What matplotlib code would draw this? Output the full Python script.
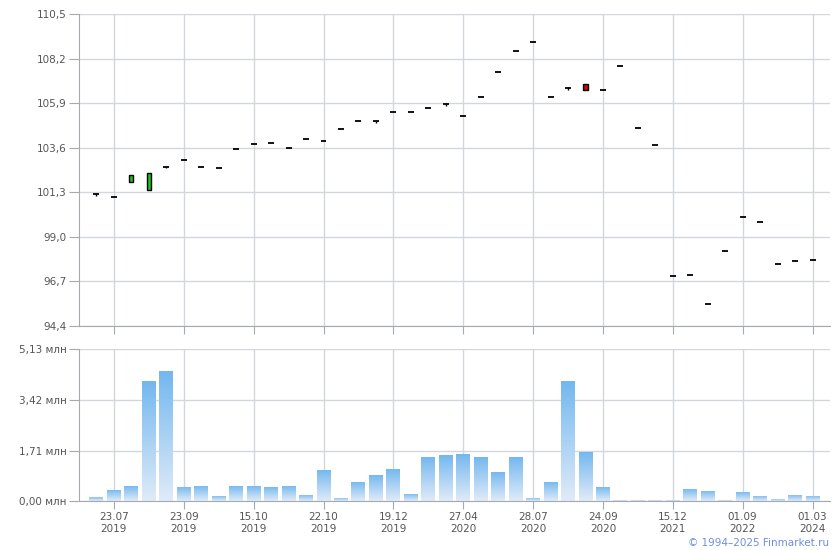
import numpy as np
import matplotlib
matplotlib.use("Agg")
import matplotlib.pyplot as plt
from matplotlib.colors import LinearSegmentedColormap

# данные: свечи (цена) и объём, млн
opens = [101.21, 101.06, 101.81, 101.40, 102.62, 102.97, 102.60, 102.55, 103.53, 103.79,
         103.84, 103.59, 104.05, 103.95, 104.57, 104.98, 104.96, 105.42, 105.44, 105.65,
         105.84, 105.24, 106.22, 107.51, 108.59, 109.06, 106.22, 106.66, 106.89, 106.58,
         107.82, 104.62, 103.74, 96.98, 97.03, 95.54, 98.27, 100.03, 99.77, 97.60,
         97.75, 97.81]
closes = [101.21, 101.06, 102.19, 102.30, 102.62, 102.97, 102.60, 102.55, 103.53, 103.79,
          103.84, 103.59, 104.05, 103.95, 104.57, 104.98, 104.96, 105.42, 105.44, 105.65,
          105.84, 105.24, 106.22, 107.51, 108.59, 109.06, 106.22, 106.66, 106.58, 106.58,
          107.82, 104.62, 103.74, 96.98, 97.03, 95.54, 98.27, 100.03, 99.77, 97.60,
          97.75, 97.81]
highs = list(closes)
lows = list(opens)
highs[0], lows[0] = 101.21, 101.12
highs[4], lows[4] = 102.62, 102.56
highs[16], lows[16] = 104.96, 104.89
highs[20], lows[20] = 105.84, 105.77
highs[27], lows[27] = 106.72, 106.60

volumes = [0.15, 0.38, 0.52, 4.05, 4.39, 0.48, 0.52, 0.18, 0.52, 0.52,
           0.48, 0.52, 0.21, 1.06, 0.11, 0.65, 0.89, 1.09, 0.25, 1.49,
           1.56, 1.59, 1.49, 0.99, 1.49, 0.11, 0.65, 4.05, 1.66, 0.48,
           0.045, 0.045, 0.045, 0.045, 0.42, 0.35, 0.04, 0.31, 0.18, 0.08,
           0.21, 0.18]

tick_idx = [1, 5, 9, 13, 17, 21, 25, 29, 33, 37, 41]
tick_labels = ["23.07\n2019", "23.09\n2019", "15.10\n2019", "22.10\n2019", "19.12\n2019",
               "27.04\n2020", "28.07\n2020", "24.09\n2020", "15.12\n2021", "01.09\n2022",
               "01.03\n2024"]
price_ticks = [94.4, 96.7, 99.0, 101.3, 103.6, 105.9, 108.2, 110.5]
vol_ticks = [0.0, 1.71, 3.42, 5.13]

grid_c = "#d3d7dc"
spine_c = "#a5a9b0"
text_c = "#555555"

fig = plt.figure(figsize=(8.4, 5.5), dpi=100)
ax1 = fig.add_axes([79/840, 1-326/550, 751/840, 312/550])
ax2 = fig.add_axes([79/840, 1-501.3/550, 751/840, 152.3/550])

x = np.arange(len(opens))

def style(ax):
    for s in ["top", "right"]:
        ax.spines[s].set_visible(False)
    for s in ["left", "bottom"]:
        ax.spines[s].set_color(spine_c)
    ax.grid(True, color=grid_c, linewidth=1)
    ax.set_axisbelow(True)
    ax.tick_params(colors=spine_c, labelcolor=text_c, labelsize=7.5, length=7, pad=2)
    ax.tick_params(axis="x", length=6, labelsize=7.5, pad=1.5)
    ax.set_xlim(-1, 42)
    ax.set_xticks(tick_idx)

# свечи
style(ax1)
ax1.set_ylim(94.4, 110.5)
ax1.set_yticks(price_ticks)
ax1.set_yticklabels([f"{v:.1f}".replace(".", ",") for v in price_ticks])
ax1.set_xticklabels([])
for i in x:
    o, c = opens[i], closes[i]
    ax1.vlines(i, lows[i], highs[i], color="black", linewidth=1, zorder=3)
    if abs(c - o) < 0.05:
        ax1.hlines(o, i - 0.17, i + 0.17, color="black", linewidth=1.3, zorder=3)
    else:
        col = "#1fbf1f" if c > o else "#d40000"
        ax1.bar(i, abs(c - o), bottom=min(o, c), width=0.24, color=col,
                edgecolor="black", linewidth=1, zorder=4)

# объём с градиентом
style(ax2)
ax2.set_ylim(0, 5.13)
ax2.set_yticks(vol_ticks)
ax2.set_yticklabels([f"{v:.2f}".replace(".", ",") + " млн" for v in vol_ticks])
ax2.set_xticklabels(tick_labels, linespacing=1.3)
cmap = LinearSegmentedColormap.from_list("vol", ["#e0ebf8", "#72b7ef"])
grad = np.linspace(0, 1, 256).reshape(-1, 1)
bars = ax2.bar(x, volumes, width=0.8, color="none", zorder=2)
for b in bars:
    x0, w, h = b.get_x(), b.get_width(), b.get_height()
    im = ax2.imshow(grad, extent=[x0, x0 + w, 0, h], origin="lower", cmap=cmap,
                    aspect="auto", zorder=2)
    im.set_clip_path(b)
ax2.set_xlim(-1, 42)
ax2.set_ylim(0, 5.13)

fig.text(829/840, 1-543/550, "© 1994–2025 Finmarket.ru", ha="right", va="center",
         fontsize=7.5, color="#6d8fe0")

fig.savefig("out.png", dpi=100)
